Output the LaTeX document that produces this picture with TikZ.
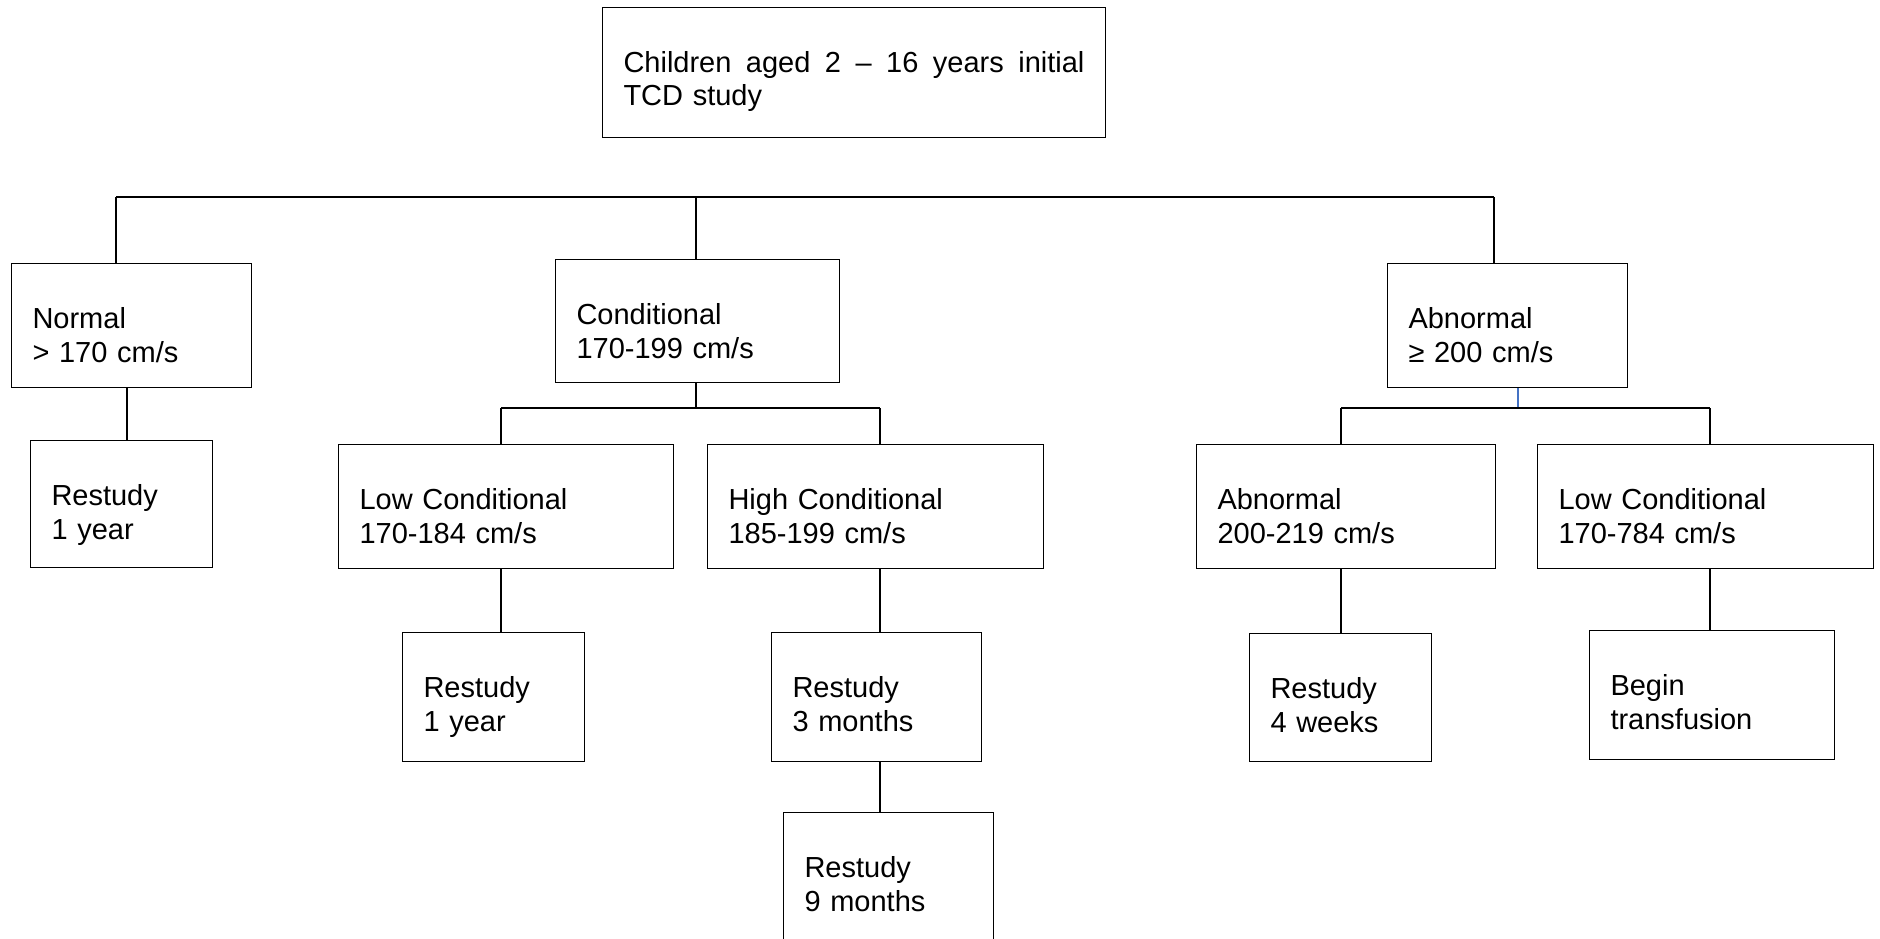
\documentclass[tikz,border=0pt]{standalone}
\usepackage{fontspec}
\setmainfont{Liberation Sans}
\definecolor{stemblue}{RGB}{68,114,196}
\tikzset{
  box/.style={draw, line width=1pt, anchor=north west, inner xsep=21pt, inner ysep=0pt,
    align=left, text height=65pt, font=\fontsize{29}{33.5}\selectfont},
  link/.style={line width=1.5pt},
  stem/.style={line width=1.3pt, stemblue},
}
\begin{document}
\begin{tikzpicture}[x=1pt,y=-1pt]
\useasboundingbox (0,0) rectangle (1880,939);

% Kopf
\node[box, text width=461pt, text depth=65pt] (study) at (602,7)
  {\hbox to 461pt{Children\hfill aged\hfill 2\hfill –\hfill 16\hfill years\hfill initial}\\TCD study};

% erste Ebene
\node[box, text width=198pt, text depth=59pt] (normal) at (11,263)   {Normal\\> 170 cm/s};
\node[box, text width=242pt, text depth=58pt] (cond)   at (555,259)  {Conditional\\170-199 cm/s};
\node[box, text width=198pt, text depth=59pt] (abn)    at (1387,263) {Abnormal\\≥ 200 cm/s};

% zweite Ebene
\node[box, text width=140pt, text depth=62pt] (rnormal) at (30,440)   {Restudy\\1 year};
\node[box, text width=293pt, text depth=59pt] (lowc)    at (338,444)  {Low Conditional\\170-184 cm/s};
\node[box, text width=294pt, text depth=59pt] (highc)   at (707,444)  {High Conditional\\185-199 cm/s};
\node[box, text width=257pt, text depth=59pt] (abn2)    at (1196,444) {Abnormal\\200-219 cm/s};
\node[box, text width=294pt, text depth=59pt] (lowc2)   at (1537,444) {Low Conditional\\170-784 cm/s};

% dritte Ebene
\node[box, text width=140pt, text depth=64pt] (rlow)  at (402,632)  {Restudy\\1 year};
\node[box, text width=168pt, text depth=64pt] (r3m)   at (771,632)  {Restudy\\3 months};
\node[box, text width=140pt, text depth=63pt] (r4w)   at (1249,633) {Restudy\\4 weeks};
\node[box, text width=203pt, text depth=64pt] (trans) at (1589,630) {Begin\\transfusion};
\node[box, text width=168pt, text depth=75pt] (r9m)   at (783,812)  {Restudy\\9 months};

% Verzweigung oben
\coordinate (t1) at (116,197);
\coordinate (t2) at (696,197);
\coordinate (t3) at (1494,197);
\coordinate (n1) at (127,0);

\draw[link] (t1) -- (t3);
\draw[link] (t1) -- (t1 |- normal.north);
\draw[link] (t2) -- (t2 |- cond.north);
\draw[link] (t3) -- (t3 |- abn.north);
\draw[link] (n1 |- normal.south) -- (n1 |- rnormal.north);

% Conditional
\coordinate (c1) at (501,408);
\coordinate (c2) at (880,408);

\draw[link] (t2 |- cond.south) -- (t2 |- c1);
\draw[link] (c1) -- (c2);
\draw[link] (c1) -- (c1 |- lowc.north);
\draw[link] (c2) -- (c2 |- highc.north);
\draw[link] (c1 |- lowc.south) -- (c1 |- rlow.north);
\draw[link] (c2 |- highc.south) -- (c2 |- r3m.north);
\draw[link] (c2 |- r3m.south) -- (c2 |- r9m.north);

% Abnormal
\coordinate (a0) at (1518,408);
\coordinate (a1) at (1341,408);
\coordinate (a2) at (1710,408);

\draw[stem] (a0 |- abn.south) -- (a0);
\draw[link] (a1) -- (a2);
\draw[link] (a1) -- (a1 |- abn2.north);
\draw[link] (a2) -- (a2 |- lowc2.north);
\draw[link] (a1 |- abn2.south) -- (a1 |- r4w.north);
\draw[link] (a2 |- lowc2.south) -- (a2 |- trans.north);

\end{tikzpicture}
\end{document}
